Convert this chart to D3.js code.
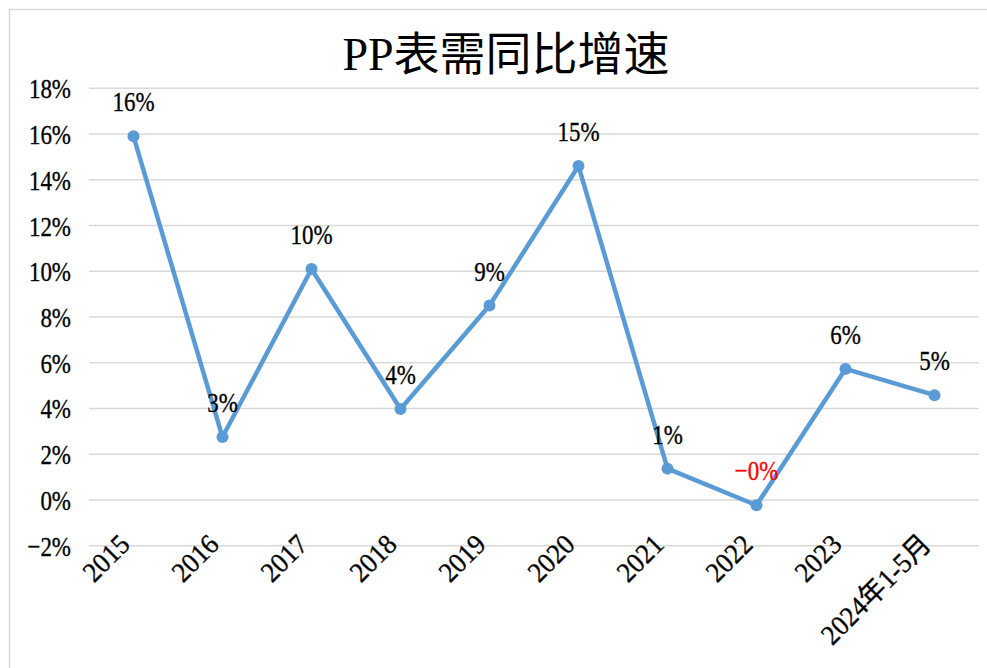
<!DOCTYPE html>
<html>
<head>
<meta charset="utf-8">
<script src="https://cdn.jsdelivr.net/npm/d3@7"></script>
<style>
  body { margin: 0; background: #fff; }
  svg { display: block; }
</style>
</head>
<body>
<svg></svg>
<script>
// PP apparent demand, year-on-year growth (%)

const categories = ["2015", "2016", "2017", "2018", "2019", "2020", "2021", "2022", "2023", "2024年1-5月"]
const growth = [15.9, 2.75, 10.1, 3.98, 8.5, 14.6, 1.37, -0.23, 5.73, 4.58]
const yTicks = [-2, 0, 2, 4, 6, 8, 10, 12, 14, 16, 18]

const width = 987
const height = 668
const fontFamily = '"Liberation Serif", "Noto Sans CJK SC", serif'
const lineColour = "#5b9bd5"
const gridColour = "#d9d9d9"
const squeeze = 0.82 // narrow latin glyphs like the original

const svg = d3.select("svg")
  .attr("width", width)
  .attr("height", height)

// chart frame
svg.append("rect")
  .attr("x", 9.5).attr("y", 9.5)
  .attr("width", width + 20).attr("height", height + 20)
  .attr("fill", "#fff")
  .attr("stroke", gridColour)
  .attr("stroke-width", 1.5)

const x = d3.scaleBand()
  .domain(categories)
  .range([89, 979])

const y = d3.scaleLinear()
  .domain([-2, 18])
  .range([545.7, 88.3])

const pct = v => (v < 0 ? "\u2212" : "") + Math.abs(v) + "%"

// slightly heavier glyphs
const ink = sel => sel
  .attr("stroke", function() { return d3.select(this).attr("fill") || "#000" })
  .attr("stroke-width", 0.35)

// title
svg.append("text")
  .attr("x", 506)
  .attr("y", 70)
  .attr("text-anchor", "middle")
  .style("font-family", fontFamily)
  .style("font-size", "46px")
  .attr("fill", "#000")
  .text("PP表需同比增速")

// gridlines
svg.append("g")
  .selectAll("line")
  .data(yTicks)
  .join("line")
    .attr("x1", x.range()[0])
    .attr("x2", x.range()[1])
    .attr("y1", d => y(d))
    .attr("y2", d => y(d))
    .attr("stroke", gridColour)
    .attr("stroke-width", 1.5)

// y tick labels
svg.append("g")
  .selectAll("text")
  .data(yTicks)
  .join("text")
    .attr("transform", d => `translate(71,${y(d) + 10}) scale(${squeeze},1)`)
    .attr("text-anchor", "end")
    .style("font-family", fontFamily)
    .style("font-size", "28px")
    .attr("fill", "#000")
    .text(d => pct(d))
    .call(ink)

// x tick labels, rotated
svg.append("g")
  .selectAll("text")
  .data(categories)
  .join("text")
    .attr("transform", d => `translate(${x(d) + x.bandwidth() / 2 - 2},546) rotate(-45) scale(0.95,1)`)
    .attr("text-anchor", "end")
    .style("font-family", fontFamily)
    .style("font-size", "28px")
    .attr("fill", "#000")
    .text(d => d)
    .call(ink)

const points = categories.map((c, i) => ({ cat: c, value: growth[i] }))

// line
svg.append("path")
  .datum(points)
  .attr("fill", "none")
  .attr("stroke", lineColour)
  .attr("stroke-width", 4.5)
  .attr("stroke-linejoin", "round")
  .attr("d", d3.line()
    .x(d => x(d.cat) + x.bandwidth() / 2)
    .y(d => y(d.value))
  )

// markers
svg.append("g")
  .selectAll("circle")
  .data(points)
  .join("circle")
    .attr("cx", d => x(d.cat) + x.bandwidth() / 2)
    .attr("cy", d => y(d.value))
    .attr("r", 6)
    .attr("fill", lineColour)

// data labels
svg.append("g")
  .selectAll("text")
  .data(points)
  .join("text")
    .attr("transform", d => `translate(${x(d.cat) + x.bandwidth() / 2},${y(d.value) - 25}) scale(${squeeze},1)`)
    .attr("text-anchor", "middle")
    .style("font-family", fontFamily)
    .style("font-size", "28px")
    .attr("fill", d => d.value < 0 ? "#ff0000" : "#000")
    .text(d => (d.value < 0 ? "\u2212" : "") + Math.abs(Math.round(d.value)) + "%")
    .call(ink)
</script>
</body>
</html>
